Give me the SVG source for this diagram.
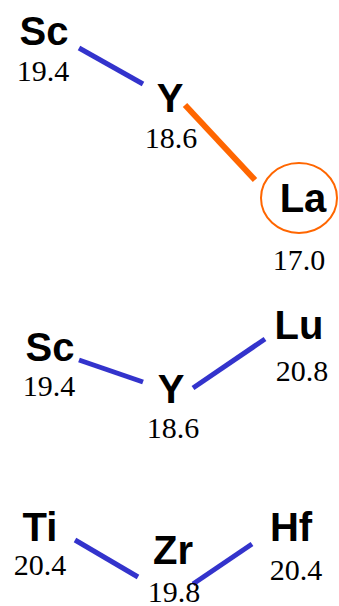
<svg xmlns="http://www.w3.org/2000/svg" width="339" height="606" viewBox="0 0 339 606">
<style>
.el{font-family:"Liberation Sans",Arial,sans-serif;font-weight:bold;font-size:40px;fill:#000;text-anchor:middle}
.num{font-family:"Liberation Serif",serif;font-size:30px;fill:#000;text-anchor:middle}
.b{stroke:#3333cc;stroke-width:5;fill:none}
.o{stroke:#ff6600;stroke-width:6;fill:none}
</style>
<rect width="339" height="606" fill="#fff"/>
<g id="connectors">
<line class="b" x1="79" y1="48" x2="143" y2="84"/>
<line class="o" x1="185" y1="105" x2="255" y2="180"/>
<line class="b" x1="79" y1="360" x2="143" y2="382"/>
<line class="b" x1="193" y1="388" x2="265" y2="339"/>
<line class="b" x1="75" y1="540" x2="138" y2="577"/>
<line class="b" x1="193" y1="584" x2="252" y2="544"/>
</g>
<g id="sc1"><text class="el" x="44" y="45">Sc</text><text class="num" x="43" y="81">19.4</text></g>
<g id="y1"><text class="el" x="170" y="112">Y</text><text class="num" x="171" y="148">18.6</text></g>
<g id="la"><ellipse cx="299" cy="198" rx="38" ry="35" fill="none" stroke="#ff6600" stroke-width="2"/><text class="el" x="303" y="212">La</text><text class="num" x="299" y="270">17.0</text></g>
<g id="sc2"><text class="el" x="50" y="361">Sc</text><text class="num" x="49" y="396">19.4</text></g>
<g id="y2"><text class="el" x="171" y="403">Y</text><text class="num" x="173" y="438">18.6</text></g>
<g id="lu"><text class="el" x="299" y="339">Lu</text><text class="num" x="302" y="381">20.8</text></g>
<g id="ti"><text class="el" x="40" y="541">Ti</text><text class="num" x="40" y="575">20.4</text></g>
<g id="zr"><text class="el" x="173" y="564">Zr</text><text class="num" x="174" y="602">19.8</text></g>
<g id="hf"><text class="el" x="291" y="541">Hf</text><text class="num" x="296" y="580">20.4</text></g>
</svg>
